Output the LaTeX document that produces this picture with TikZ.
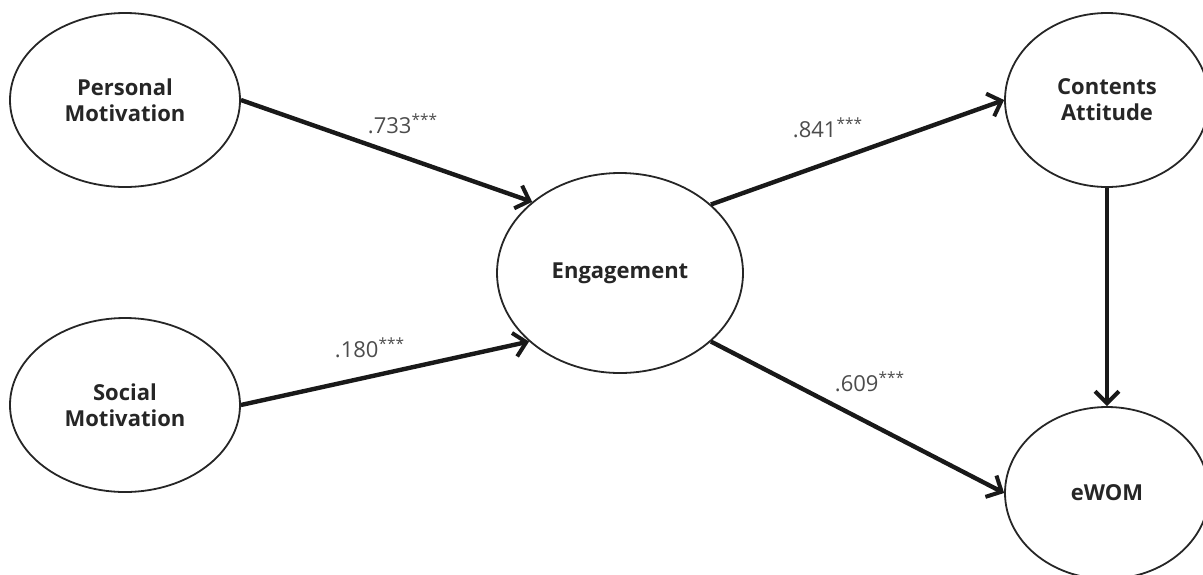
\documentclass[tikz,border=0pt]{standalone}
\usepackage{fontspec}
\setmainfont{Open Sans}
\usetikzlibrary{shapes.geometric,arrows.meta}
\begin{document}
\begin{tikzpicture}[x=0.5pt,y=-0.5pt,
  latent/.style={ellipse,draw=black!85,line width=0.9pt,inner sep=0pt,align=center,
    font=\fontsize{11}{13}\selectfont\bfseries,text=black!85},
  path/.style={line width=2.2pt,black!90,-{Straight Barb[length=6pt,width=12pt,line width=2pt]}},
  coef/.style={font=\fontsize{11}{13}\selectfont,text=black!70}]
\useasboundingbox (0,0) rectangle (1203,574);
\node[latent,minimum width=115pt,minimum height=87pt] (pm) at (125,100) {Personal\\Motivation};
\node[latent,minimum width=115pt,minimum height=87pt] (sm) at (125,405) {Social\\Motivation};
\node[latent,minimum width=123pt,minimum height=100pt] (eng) at (620,273) {Engagement};
\node[latent,minimum width=102pt,minimum height=87pt] (ca) at (1107,100) {Contents\\Attitude};
\node[latent,minimum width=102pt,minimum height=86pt] (ew) at (1107,493) {eWOM};
\draw[path] (pm.east) -- (eng.141);
\draw[path] (sm.east) -- (eng.217);
\draw[path] (eng.37) -- (ca.west);
\draw[path] (eng.-37) -- (ew.west);
\draw[path] (ca.south) -- (ew.north);
\node[coef] (l1) at (403,124) {.733\textsuperscript{***}};
\node[coef] (l2) at (370,348) {.180\textsuperscript{***}};
\node[coef] (l3) at (828,128) {.841\textsuperscript{***}};
\node[coef] (l4) at (870,382) {.609\textsuperscript{***}};
\end{tikzpicture}
\end{document}
